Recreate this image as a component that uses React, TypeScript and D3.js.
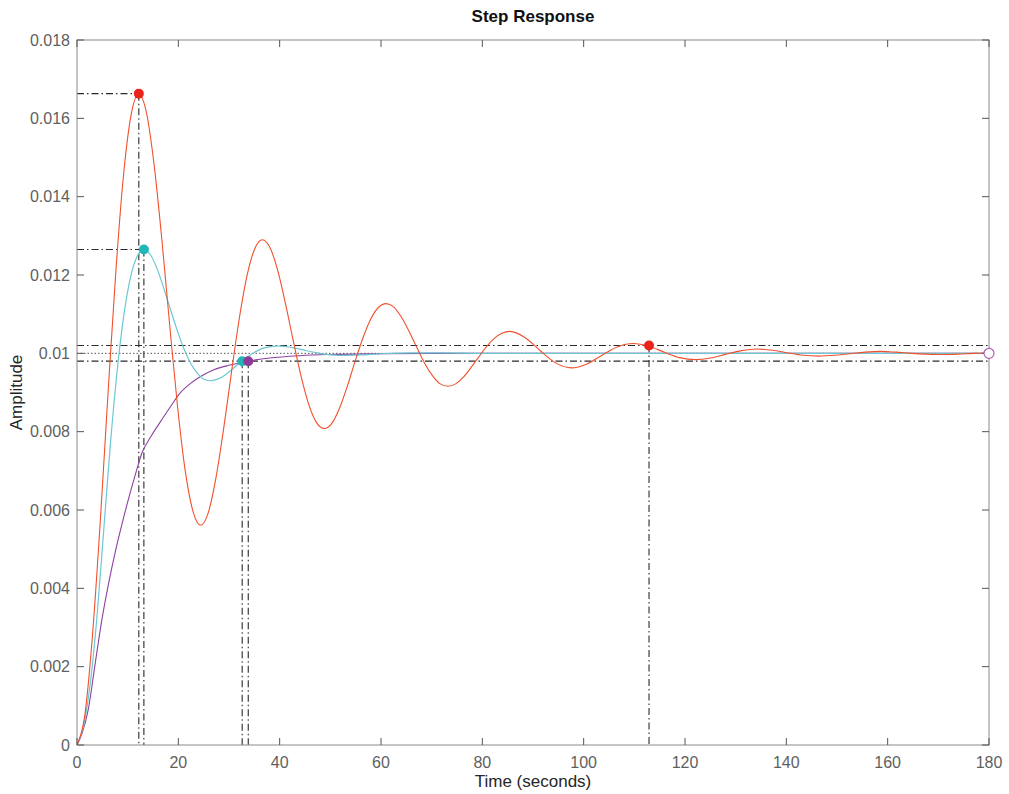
import React from "react";
import * as d3 from "d3";

// ---- data ----
const redT = [0, 1.53, 3.05, 4.58, 6.1, 7.63, 9.15, 10.68, 12.2, 13.73, 15.25, 16.78, 18.3, 19.83, 21.35, 22.88, 24.4, 25.93, 27.45, 28.98, 30.5, 32.03, 33.55, 35.08, 36.6, 38.13, 39.65, 41.18, 42.7, 44.23, 45.75, 47.28, 48.8, 50.33, 51.85, 53.38, 54.9, 56.43, 57.95, 59.48, 61.0, 62.53, 64.05, 65.58, 67.1, 68.63, 70.15, 71.68, 73.2, 74.73, 76.25, 77.78, 79.3, 80.83, 82.35, 83.88, 85.4, 88.45, 91.5, 94.55, 97.6, 100.65, 103.7, 106.75, 109.8, 112.85, 115.9, 118.95, 122, 125.05, 128.1, 131.15, 134.2, 137.25, 140.3, 143.35, 146.4, 149.45, 152.5, 155.55, 158.6, 161.65, 164.7, 167.75, 170.8, 173.85, 176.9, 180];
const redV = [0, 0.00075, 0.00279, 0.00568, 0.00893, 0.01202, 0.01451, 0.01609, 0.01662, 0.01613, 0.01478, 0.01286, 0.01071, 0.00866, 0.00701, 0.00597, 0.00561, 0.00594, 0.00684, 0.00811, 0.00953, 0.01089, 0.01198, 0.01267, 0.0129, 0.01269, 0.0121, 0.01125, 0.01031, 0.00941, 0.00869, 0.00823, 0.00808, 0.00822, 0.00861, 0.00917, 0.0098, 0.01039, 0.01087, 0.01117, 0.01127, 0.01118, 0.01092, 0.01055, 0.01014, 0.00974, 0.00943, 0.00922, 0.00916, 0.00922, 0.00939, 0.00964, 0.00991, 0.01017, 0.01038, 0.01051, 0.01056, 0.0104, 0.01006, 0.00975, 0.00963, 0.00973, 0.00996, 0.01017, 0.01025, 0.01018, 0.01003, 0.00989, 0.00984, 0.00988, 0.00998, 0.01007, 0.01011, 0.01008, 0.01001, 0.00995, 0.00993, 0.00995, 0.00999, 0.01003, 0.01005, 0.01003, 0.01, 0.00998, 0.00997, 0.00998, 0.01, 0.01001];

const cyanT = [0, 1.32, 2.64, 3.96, 5.28, 6.6, 7.92, 9.24, 10.56, 11.88, 13.2, 14.52, 15.84, 17.16, 18.48, 19.8, 21.12, 22.44, 23.76, 25.08, 26.4, 27.72, 29.04, 30.36, 31.68, 33.0, 34.32, 35.64, 36.96, 38.28, 39.6, 40.92, 42.24, 43.56, 44.88, 46.2, 47.52, 48.84, 50.16, 51.48, 52.8, 56, 60, 66, 72, 80, 100, 140, 180];
const cyanV = [0, 0.0005, 0.0016, 0.0033, 0.0055, 0.0077, 0.00955, 0.01097, 0.01194, 0.01248, 0.01265, 0.01251, 0.01215, 0.01165, 0.01111, 0.01058, 0.01011, 0.00974, 0.00949, 0.00934, 0.0093, 0.00934, 0.00943, 0.00956, 0.00971, 0.00985, 0.00997, 0.01007, 0.01014, 0.01017, 0.01019, 0.01018, 0.01015, 0.01012, 0.01008, 0.01004, 0.01001, 0.00998, 0.00996, 0.00995, 0.00995, 0.00996, 0.00999, 0.01001, 0.01001, 0.01, 0.01, 0.01, 0.01];

const purpleT = [0, 1, 2.2, 3.5, 4.9, 6.2, 7.5, 8.8, 10.1, 11.4, 12.8, 14.7, 16.7, 18.5, 20.3, 22.3, 24.3, 27, 30.2, 33.8, 38, 44, 50, 60, 70, 90, 120, 150, 180];
const purpleV = [0, 0.0003, 0.00089, 0.002, 0.00319, 0.0041, 0.0049, 0.0056, 0.00625, 0.00685, 0.00745, 0.0079, 0.0083, 0.00865, 0.00898, 0.00922, 0.0094, 0.00958, 0.0097, 0.0098, 0.00988, 0.00994, 0.00997, 0.00999, 0.01, 0.01, 0.01, 0.01, 0.01];

// characteristic points: [time, amplitude]
const peakRed = [12.2, 0.01663];
const peakCyan = [13.2, 0.01265];
const settleCyan = [32.6, 0.0098];
const settlePurple = [33.8, 0.0098];
const settleRed = [112.9, 0.0102];
const settleBand = [0.0098, 0.0102];
const steadyValue = 0.01;
const endTime = 180;

const xTicks = [0, 20, 40, 60, 80, 100, 120, 140, 160, 180];
const yTicks = [0, 0.002, 0.004, 0.006, 0.008, 0.01, 0.012, 0.014, 0.016, 0.018];
const yTickLabels = ["0", "0.002", "0.004", "0.006", "0.008", "0.01", "0.012", "0.014", "0.016", "0.018"];

const W = 1009, H = 794;
const L = 77, R = 989, T = 40, B = 745;

const RED = "#f0502c", RED_M = "#e8241c";
const CYAN = "#6cc8d2", CYAN_M = "#22b6ba";
const PURPLE = "#8d42a0", PURPLE_M = "#8e3a98";
const DASHDOT = "7,3,1.5,3";
const FONT = "'Liberation Sans', Arial, Helvetica, sans-serif";

export default function App() {
  const x = d3.scaleLinear().domain([0, 180]).range([L, R]);
  const y = d3.scaleLinear().domain([0, 0.018]).range([B, T]);
  const line = d3.line<number>().curve(d3.curveMonotoneX);
  const mk = (ts: number[], vs: number[]) => line(ts.map((t, i) => [x(t), y(vs[i])] as any) as any) as string;

  const vLine = (p: number[], key: string) => (
    <line key={key} x1={x(p[0])} x2={x(p[0])} y1={y(p[1])} y2={B} stroke="#2a2a2a" strokeWidth={1.1} strokeDasharray={DASHDOT} />
  );
  const hLine = (p: number[], key: string) => (
    <line key={key} x1={L} x2={x(p[0])} y1={y(p[1])} y2={y(p[1])} stroke="#2a2a2a" strokeWidth={1.1} strokeDasharray={DASHDOT} />
  );

  return (
    <svg width={W} height={H} style={{ position: "absolute", left: 0, top: 0, background: "#fff" }} fontFamily={FONT}>
      <rect x={0} y={0} width={W} height={H} fill="#fff" />
      <defs>
        <clipPath id="plot"><rect x={L} y={T} width={R - L} height={B - T} /></clipPath>
      </defs>
      {/* title & labels */}
      <text x={(L + R) / 2} y={22} textAnchor="middle" fontWeight="bold" fontSize={17} fill="#111">Step Response</text>
      <text x={(L + R) / 2} y={787} textAnchor="middle" fontSize={17} fill="#262626">Time (seconds)</text>
      <text transform={`translate(22,${(T + B) / 2}) rotate(-90)`} textAnchor="middle" fontSize={17} fill="#262626">Amplitude</text>

      {/* tick labels */}
      {xTicks.map((t) => (
        <text key={"xt" + t} x={x(t)} y={768} textAnchor="middle" fontSize={16} fill="#5f5f5f">{t}</text>
      ))}
      {yTicks.map((v, i) => (
        <text key={"yt" + v} x={70} y={y(v) + 5.5} textAnchor="end" fontSize={16} fill="#5f5f5f">{yTickLabels[i]}</text>
      ))}

      <g clipPath="url(#plot)">
        {/* settling band and steady state */}
        {settleBand.map((v) => (
          <line key={"sb" + v} x1={L} x2={R} y1={y(v)} y2={y(v)} stroke="#2a2a2a" strokeWidth={1.1} strokeDasharray={DASHDOT} />
        ))}
        <line x1={L} x2={R} y1={y(steadyValue)} y2={y(steadyValue)} stroke="#555" strokeWidth={1} strokeDasharray="1.5,2" />
        {hLine(peakRed, "hpr")}
        {hLine(peakCyan, "hpc")}
        {vLine(peakRed, "vpr")}
        {vLine(peakCyan, "vpc")}
        {vLine(settleCyan, "vsc")}
        {vLine(settlePurple, "vsp")}
        {vLine(settleRed, "vsr")}

        <path d={mk(purpleT, purpleV)} fill="none" stroke={PURPLE} strokeWidth={1.1} />
        <path d={mk(cyanT, cyanV)} fill="none" stroke={CYAN} strokeWidth={1.2} />
        <path d={mk(redT, redV)} fill="none" stroke={RED} strokeWidth={1.1} />
      </g>

      {/* axes box */}
      <rect x={L} y={T} width={R - L} height={B - T} fill="none" stroke="#8a8a8a" strokeWidth={1} />
      {xTicks.map((t) => (
        <g key={"xk" + t}>
          <line x1={x(t)} x2={x(t)} y1={B} y2={B - 7} stroke="#555" />
          <line x1={x(t)} x2={x(t)} y1={T} y2={T + 7} stroke="#555" />
        </g>
      ))}
      {yTicks.map((v) => (
        <g key={"yk" + v}>
          <line x1={L} x2={L + 7} y1={y(v)} y2={y(v)} stroke="#555" />
          <line x1={R} x2={R - 7} y1={y(v)} y2={y(v)} stroke="#555" />
        </g>
      ))}

      {/* markers */}
      <circle cx={x(peakRed[0])} cy={y(peakRed[1])} r={5} fill={RED_M} />
      <circle cx={x(peakCyan[0])} cy={y(peakCyan[1])} r={5} fill={CYAN_M} />
      <circle cx={x(settleCyan[0])} cy={y(settleCyan[1])} r={5} fill={CYAN_M} />
      <circle cx={x(settlePurple[0])} cy={y(settlePurple[1])} r={5} fill={PURPLE_M} />
      <circle cx={x(settleRed[0])} cy={y(settleRed[1])} r={5} fill={RED_M} />
      <circle cx={x(endTime)} cy={y(steadyValue)} r={5} fill="#fff" stroke="#b060b0" strokeWidth={1.2} />
    </svg>
  );
}
